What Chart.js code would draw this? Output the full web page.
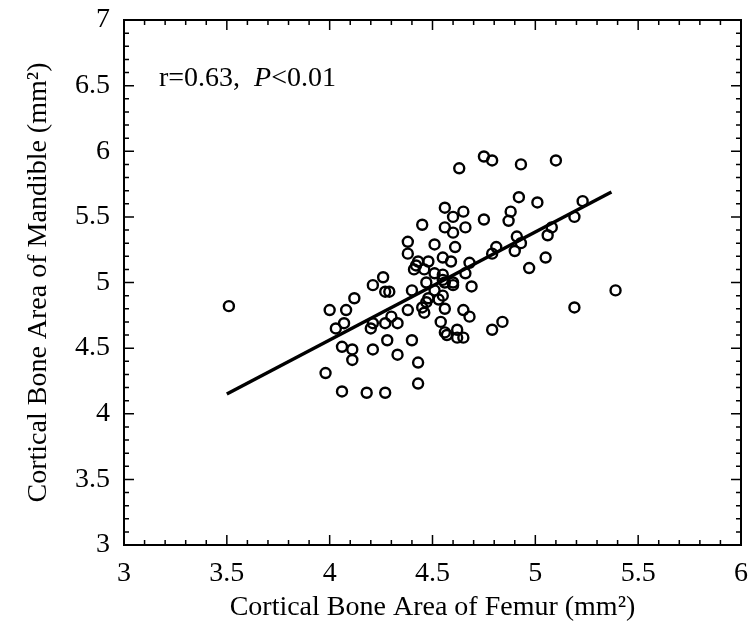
<!DOCTYPE html>
<html>
<head>
<meta charset="utf-8">
<script src="https://cdn.jsdelivr.net/npm/chart.js@4.4.1/dist/chart.umd.min.js"></script>
<style>
  html, body { margin: 0; padding: 0; background: #fff; }
  #wrap { width: 756px; height: 635px; }
</style>
</head>
<body>
<div id="wrap"><canvas id="myChart"></canvas></div>
<script>
// femur vs mandible cortical bone area
const femur = [
  3.51, 3.98, 4.06, 4.18, 4.27, 4.43, 4.43, 4.11, 4.06, 4.11,
  4.21, 4.28, 4.33, 4.40, 4.03, 4.07, 4.20, 4.21, 4.27, 4.30,
  4.33, 4.38, 4.00, 4.08, 4.12, 4.21, 4.26, 4.27, 4.29, 4.40,
  4.47, 4.45, 4.46, 4.47, 4.53, 4.56, 4.54, 4.56, 4.57, 4.62,
  4.62, 4.65, 4.65, 4.68, 4.79, 4.84, 4.69, 4.55, 4.60, 4.51,
  4.48, 4.55, 4.56, 4.60, 4.41, 4.46, 4.51, 4.55, 4.66, 4.68,
  4.43, 4.48, 4.42, 4.55, 4.59, 4.38, 4.38, 4.51, 4.61, 4.60,
  4.56, 4.45, 4.66, 4.60, 4.56, 4.65, 4.63, 4.75, 4.79, 4.93,
  5.10, 4.92, 5.01, 5.23, 4.88, 4.87, 4.75, 4.81, 4.79, 4.91,
  4.93, 4.90, 5.06, 5.08, 5.19, 5.05, 4.97, 5.19, 5.39
];
const mandible = [
  4.82, 4.31, 4.17, 4.16, 4.16, 4.23, 4.39, 4.41, 4.51, 4.49,
  4.49, 4.56, 4.45, 4.56, 4.65, 4.69, 4.65, 4.69, 4.69, 4.74,
  4.69, 4.79, 4.79, 4.79, 4.88, 4.98, 5.04, 4.93, 4.93, 4.94,
  5.00, 4.81, 4.77, 4.85, 4.87, 4.80, 4.70, 4.62, 4.60, 4.64,
  4.58, 4.58, 4.79, 4.74, 4.64, 4.70, 4.97, 5.02, 4.98, 4.94,
  4.88, 4.90, 5.00, 5.00, 5.10, 5.10, 5.07, 5.06, 5.07, 5.15,
  5.16, 5.16, 5.13, 5.19, 5.16, 5.22, 5.31, 5.29, 5.27, 5.38,
  5.42, 5.44, 5.42, 5.50, 5.57, 5.54, 5.87, 5.96, 5.93, 5.90,
  5.93, 5.65, 5.61, 5.62, 5.54, 5.47, 5.48, 5.27, 5.22, 5.35,
  5.30, 5.24, 5.36, 5.42, 5.50, 5.19, 5.11, 4.81, 4.94
];
// regression line end points
const fitX = [3.5, 5.37];
const fitY = [4.15, 5.69];

const xTicks = [3, 3.5, 4, 4.5, 5, 5.5, 6];
const yTicks = [3, 3.5, 4, 4.5, 5, 5.5, 6, 6.5, 7];

const serif = "'Liberation Serif', 'DejaVu Serif', serif";

// box frame + inward ticks on all four sides, and the r / P note
const frameTicks = {
  id: 'frameTicks',
  afterDraw(chart) {
    const {ctx, chartArea: a, scales: {x, y}} = chart;
    ctx.save();
    ctx.strokeStyle = '#000';
    ctx.lineWidth = 2;
    ctx.strokeRect(a.left, a.top, a.right - a.left, a.bottom - a.top);
    ctx.lineWidth = 1.5;
    ctx.beginPath();
    for (let i = 0; i <= 30; i++) {
      const v = 3 + i * 0.1;
      const px = x.getPixelForValue(v);
      const len = i % 5 === 0 ? 10 : 5;
      ctx.moveTo(px, a.bottom); ctx.lineTo(px, a.bottom - len);
      ctx.moveTo(px, a.top); ctx.lineTo(px, a.top + len);
    }
    for (let i = 0; i <= 40; i++) {
      const v = 3 + i * 0.1;
      const py = y.getPixelForValue(v);
      const len = i % 5 === 0 ? 10 : 5;
      ctx.moveTo(a.left, py); ctx.lineTo(a.left + len, py);
      ctx.moveTo(a.right, py); ctx.lineTo(a.right - len, py);
    }
    ctx.stroke();

    // annotation
    let tx = x.getPixelForValue(3.17);
    const ty = y.getPixelForValue(6.5);
    ctx.fillStyle = '#000';
    ctx.textBaseline = 'alphabetic';
    ctx.textAlign = 'left';
    const parts = [['r=0.63,  ', ''], ['P', 'italic '], ['<0.01', '']];
    parts.forEach(([t, st]) => {
      ctx.font = st + '28px ' + serif;
      ctx.fillText(t, tx, ty);
      tx += ctx.measureText(t).width;
    });
    ctx.restore();
  }
};

const ctx = document.getElementById('myChart');

new Chart(ctx, {
  data: {
    datasets: [
      {
        type: 'scatter',
        label: 'samples',
        data: femur.map((v, i) => ({x: v, y: mandible[i]})),
        pointStyle: 'circle',
        pointRadius: 5,
        borderWidth: 2.4,
        borderColor: '#000',
        backgroundColor: 'rgba(0,0,0,0)'
      },
      {
        type: 'line',
        label: 'fit',
        data: fitX.map((v, i) => ({x: v, y: fitY[i]})),
        borderColor: '#000',
        borderWidth: 3.5,
        pointRadius: 0,
        fill: false
      }
    ]
  },
  options: {
    responsive: true,
    maintainAspectRatio: false,
    animation: false,
    layout: { padding: { top: 20, right: 15, left: 0, bottom: 0 } },
    plugins: {
      legend: { display: false },
      tooltip: { enabled: false }
    },
    scales: {
      x: {
        type: 'linear',
        min: 3, max: 6,
        afterBuildTicks: s => { s.ticks = xTicks.map(v => ({value: v})); },
        grid: { display: false, drawTicks: false },
        border: { display: false },
        ticks: { color: '#000', padding: 12, font: { family: serif, size: 28 },
                 callback: v => String(v), maxRotation: 0 },
        title: { display: true, text: 'Cortical Bone Area of Femur (mm\u00B2)', color: '#000',
                 font: { family: serif, size: 28 }, padding: { top: 0, bottom: 11 } },
        afterFit: s => { s.height = 90; s.paddingLeft = 0; s.paddingRight = 0; }
      },
      y: {
        type: 'linear',
        min: 3, max: 7,
        afterBuildTicks: s => { s.ticks = yTicks.map(v => ({value: v})); },
        grid: { display: false, drawTicks: false },
        border: { display: false },
        ticks: { color: '#000', padding: 14, font: { family: serif, size: 28 },
                 callback: v => String(v) },
        title: { display: true, text: 'Cortical Bone Area of Mandible (mm\u00B2)', color: '#000',
                 font: { family: serif, size: 28 }, padding: { top: 22, bottom: 0 } },
        afterFit: s => { s.width = 124; s.paddingTop = 0; s.paddingBottom = 0; }
      }
    }
  },
  plugins: [frameTicks]
});
</script>
</body>
</html>
